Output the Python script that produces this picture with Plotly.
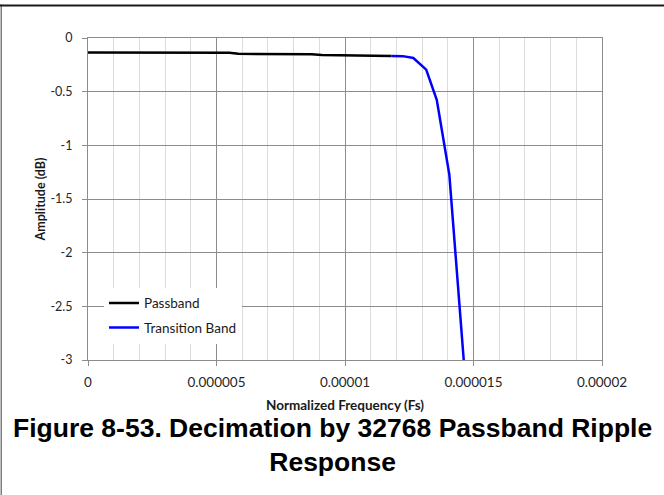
import plotly.graph_objects as go

# ---- data ----
pass_freq = [0, 1e-6, 2e-6, 3e-6, 4e-6, 5e-6, 5.5e-6, 5.85e-6, 7e-6, 8e-6, 8.7e-6, 9.1e-6,
             10e-6, 10.9e-6, 11.3e-6, 11.8e-6]
pass_db = [-0.135, -0.135, -0.135, -0.135, -0.135, -0.135, -0.137, -0.147, -0.148, -0.149,
           -0.152, -0.158, -0.159, -0.161, -0.167, -0.167]

trans_freq = [11.8e-6, 12.25e-6, 12.66e-6, 13.16e-6, 13.57e-6, 14.06e-6, 14.62e-6]
trans_db = [-0.167, -0.169, -0.186, -0.295, -0.575, -1.273, -3.0]

x_tickvals = [0, 5e-6, 10e-6, 15e-6, 20e-6]
x_ticktext = ["0", "0.000005", "0.00001", "0.000015", "0.00002"]
y_tickvals = [0, -0.5, -1, -1.5, -2, -2.5, -3]
y_ticktext = ["0", "-0.5", "-1", "-1.5", "-2", "-2.5", "-3"]

W, H = 664, 495
ML, MR, MT, MB = 88, 62, 38, 134.5
PW, PH = W - ML - MR, H - MT - MB


def px(xpix):
    return (xpix - ML) / PW


def py(ypix):
    return (H - MB - ypix) / PH


fig = go.Figure()
fig.add_trace(go.Scatter(x=pass_freq, y=pass_db, mode="lines", name="Passband",
                         line=dict(color="#000000", width=2.5), legendgroup="a"))
fig.add_trace(go.Scatter(x=trans_freq, y=trans_db, mode="lines", name="Transition Band",
                         line=dict(color="#0000FF", width=2.5), legendgroup="b"))

FONT = "Lato, Open Sans, sans-serif"
xtick_font = dict(family=FONT, size=13.5, color="#262626")
ytick_font = dict(family=FONT, size=12.5, color="#262626")

fig.update_layout(
    width=W, height=H,
    margin=dict(l=ML, r=MR, t=MT, b=MB, pad=0),
    paper_bgcolor="white", plot_bgcolor="white",
    showlegend=True,
    legend=dict(x=px(104), y=py(288), xanchor="left", yanchor="top",
                bgcolor="white", borderwidth=0, tracegroupgap=4,
                font=dict(family=FONT, size=13.5, color="#1a1a1a")),
    xaxis=dict(range=[0, 2e-5], tickmode="array", tickvals=x_tickvals, ticktext=x_ticktext,
               showgrid=True, gridcolor="#8c8c8c", gridwidth=1,
               minor=dict(dtick=1e-6, showgrid=True, gridcolor="#dcdcdc", gridwidth=1, ticks=""),
               showline=True, linecolor="#8c8c8c", linewidth=1, mirror=True,
               ticks="outside", ticklen=5, tickcolor="#8c8c8c",
               zeroline=False, tickfont=xtick_font, ticklabelstandoff=5,
               title=dict(text="<b>Normalized Frequency (Fs)</b>",
                          font=dict(family=FONT, size=13.5, color="#1a1a1a"),
                          standoff=11)),
    yaxis=dict(range=[-3, 0], tickmode="array", tickvals=y_tickvals, ticktext=y_ticktext,
               showgrid=True, gridcolor="#8c8c8c", gridwidth=1,
               showline=True, linecolor="#8c8c8c", linewidth=1, mirror=True,
               ticks="outside", ticklen=5, tickcolor="#8c8c8c",
               zeroline=False, tickfont=ytick_font, ticklabelstandoff=7,
               title=dict(text="<b>Amplitude (dB)</b>",
                          font=dict(family=FONT, size=12.5, color="#1a1a1a"),
                          standoff=2)),
    annotations=[dict(text="<b>Figure 8-53. Decimation by 32768 Passband Ripple<br>Response</b>",
                      xref="paper", yref="paper", x=px(332), y=py(446),
                      xanchor="center", yanchor="middle", showarrow=False,
                      font=dict(family="Liberation Sans, Arial, sans-serif", size=26.5, color="#000000"))],
    shapes=[
        dict(type="rect", xref="paper", yref="paper", layer="above",
             x0=px(0.5), x1=px(2), y0=py(H + 5), y1=py(4.5),
             line=dict(width=0), fillcolor="#7f7f7f"),
        dict(type="rect", xref="paper", yref="paper", layer="above",
             x0=px(-5), x1=px(W + 5), y0=py(6.5), y1=py(4.5),
             line=dict(width=0), fillcolor="#1a1a1a"),
    ],
)

fig.write_html("out.html", config={"displayModeBar": False},
               post_script="document.body.style.margin='0';")
